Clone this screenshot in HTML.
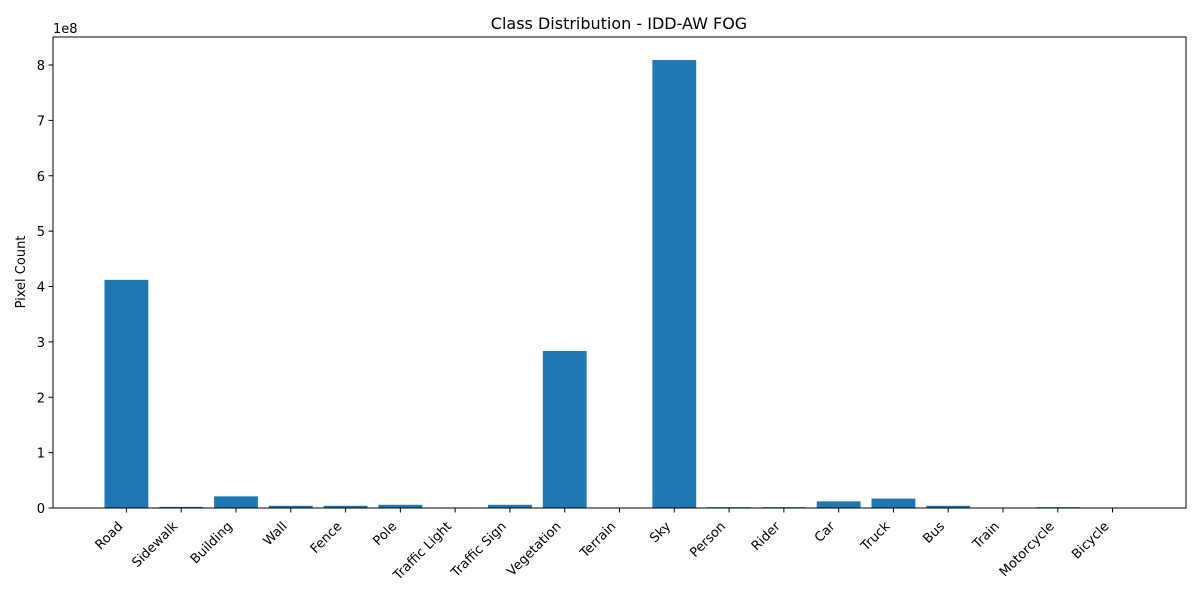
<!DOCTYPE html>
<html><head><meta charset="utf-8"><style>
body{margin:0;background:#fff;}
svg text{font-family:"DejaVu Sans","Liberation Sans",sans-serif;fill:#000;}
</style></head><body>
<svg id="chart" width="1200" height="600" xmlns="http://www.w3.org/2000/svg">
<text x="619" y="29" font-size="16" text-anchor="middle">Class Distribution - IDD-AW FOG</text>
<text transform="translate(25,272) rotate(-90)" font-size="13" text-anchor="middle">Pixel Count</text>
<text x="53" y="33" font-size="13">1e8</text>
<g id="bars"></g><g id="axes"></g>
</svg>
<script>
const categories=["Road","Sidewalk","Building","Wall","Fence","Pole","Traffic Light","Traffic Sign","Vegetation","Terrain","Sky","Person","Rider","Car","Truck","Bus","Train","Motorcycle","Bicycle"];
const values=[4.12,0.02,0.21,0.04,0.04,0.058,0.003,0.058,2.835,0.0,8.09,0.015,0.015,0.12,0.17,0.04,0.0,0.015,0.002];
const yTicks=[0,1,2,3,4,5,6,7,8];
const L=53,R=1186,T=37,B=508;
const xMin=-1.34,xMax=19.34,yMax=8.506;
const xs=v=>L+(v-xMin)/(xMax-xMin)*(R-L);
const ys=v=>B-v/yMax*(B-T);
const NS="http://www.w3.org/2000/svg";
const bars=document.getElementById('bars'),axes=document.getElementById('axes');
function mk(tag,attrs,parent){const e=document.createElementNS(NS,tag);for(const k in attrs)e.setAttribute(k,attrs[k]);parent.appendChild(e);return e;}
const bw=(xs(0.4)-xs(-0.4));
categories.forEach((c,i)=>{
  const r=mk('rect',{x:xs(i)-bw/2,y:ys(values[i]),width:bw,height:B-ys(values[i]),fill:'#1f77b4'},bars);
  
  
  const t=mk('line',{x1:xs(i),x2:xs(i),y1:B,y2:B+4.5,stroke:'#000','stroke-width':1},axes);
  
  
  const lx=xs(i)-3,ly=B+19;
  const tx=mk('text',{x:lx,y:ly,'font-size':13,'text-anchor':'end',transform:`rotate(-45 ${lx} ${ly})`},axes);
  tx.textContent=c;
  
  
});
yTicks.forEach(v=>{
  const y=ys(v);
  const t=mk('line',{x1:L-4.5,x2:L,y1:y,y2:y,stroke:'#000','stroke-width':1},axes);
  
  
  const tx=mk('text',{x:L-8,y:y+5,'font-size':13,'text-anchor':'end'},axes);
  tx.textContent=v;
  
  
});
const f=mk('rect',{x:L,y:T,width:R-L,height:B-T,fill:'none',stroke:'#000','stroke-width':1},axes);


</script>
</body></html>
